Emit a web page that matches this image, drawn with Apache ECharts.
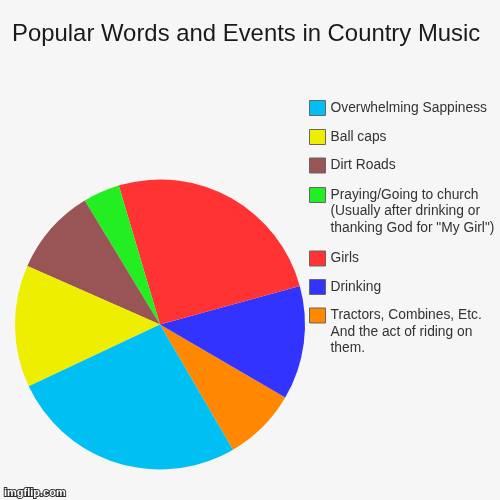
<!DOCTYPE html>
<html>
<head>
<meta charset="utf-8">
<script src="https://cdn.jsdelivr.net/npm/echarts@6/dist/echarts.min.js"></script>
<style>
html,body{margin:0;padding:0;background:#f6f6f6;}
#chart{width:500px;height:500px;}
</style>
</head>
<body>
<div id="chart"></div>
<script>
const categories = [
  'Tractors, Combines, Etc. And the act of riding on them.',
  'Drinking',
  'Girls',
  'Praying/Going to church (Usually after drinking or thanking God for "My Girl")',
  'Dirt Roads',
  'Ball caps',
  'Overwhelming Sappiness'
];
const legendLabels = [
  'Tractors, Combines, Etc.\nAnd the act of riding on\nthem.',
  'Drinking',
  'Girls',
  'Praying/Going to church\n(Usually after drinking or\nthanking God for "My Girl")',
  'Dirt Roads',
  'Ball caps',
  'Overwhelming Sappiness'
];
const values = [8.2, 12.7, 25.3, 4.1, 9.7, 13.6, 26.4];
const colors = ['#ff8800', '#3333ff', '#ff3333', '#22ee22', '#995555', '#eeee00', '#00bff2'];

// icon centre y for each legend item (pixel layout)
const legendCenters = [315.5, 287, 258.5, 195, 165.5, 137, 108];

const NB = '\u00a0';
const legends = categories.map(function (name, i) {
  const lbl = legendLabels[i];
  const nLines = lbl.split('\n').length;
  // pad with blank lines so that the first line aligns with the icon
  let txt = lbl;
  for (let k = 1; k < nLines; k++) txt = NB + '\n' + txt;
  const lh = 16.5;
  const total = (2 * nLines - 1) * lh;
  const top = legendCenters[i] - total / 2;
  return {
    data: [{ name: name, icon: 'rect' }],
    orient: 'vertical',
    left: 309,
    top: top,
    padding: 0,
    itemWidth: 16,
    itemHeight: 15,
    itemGap: 0,
    selectedMode: false,
    itemStyle: { borderColor: '#666', borderWidth: 1 },
    textStyle: { fontSize: 13.8, lineHeight: lh, color: '#333', fontFamily: 'Liberation Sans, Arial, sans-serif' },
    formatter: function () { return txt; }
  };
});

const chart = echarts.init(document.getElementById('chart'), null, { renderer: 'canvas' });
chart.setOption({
  backgroundColor: '#f6f6f6',
  animation: false,
  title: {
    text: 'Popular Words and Events in Country Music',
    left: 7,
    top: 17,
    textStyle: { fontSize: 23.9, fontWeight: 'normal', color: '#1a1a1a', fontFamily: 'Liberation Sans, Arial, sans-serif' }
  },
  legend: legends,
  color: colors,
  series: [{
    type: 'pie',
    center: [160, 324.5],
    radius: [0, 145],
    startAngle: -59.8,
    clockwise: false,
    label: { show: false },
    labelLine: { show: false },
    emphasis: { disabled: true },
    itemStyle: { borderWidth: 0 },
    data: categories.map(function (n, i) { return { name: n, value: values[i] }; })
  }],
  graphic: [{
    type: 'text',
    left: 3,
    top: 486,
    style: {
      text: 'imgflip.com',
      font: 'bold 11px Liberation Sans, Arial, sans-serif',
      fill: '#ffffff',
      stroke: '#333333',
      lineWidth: 2
    }
  }]
});
</script>
</body>
</html>
